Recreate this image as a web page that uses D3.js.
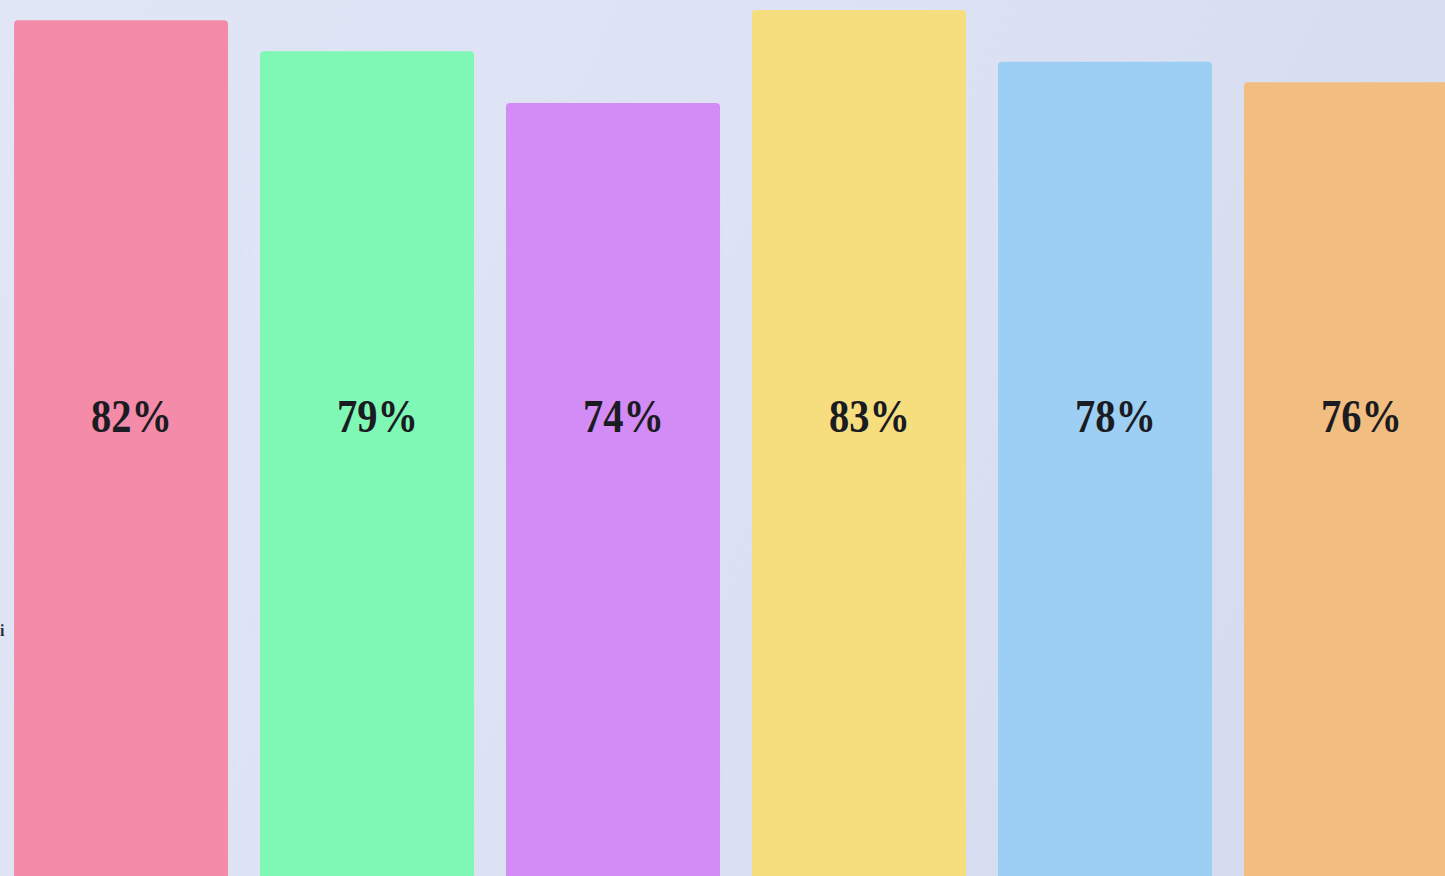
<!DOCTYPE html>
<html>
<head>
<meta charset="utf-8">
<script src="https://cdn.jsdelivr.net/npm/d3@7"></script>
<style>
	html, body { margin: 0; padding: 0; overflow: hidden; }
	svg { display: block; }
	.label { font-family: "Liberation Serif", "Times New Roman", serif; font-weight: bold; }
</style>
</head>
<body>
<svg width="1445" height="876"></svg>
<script>
// The six bars, left to right
const categories = ["A", "B", "C", "D", "E", "F"];
const values = [82, 79, 74, 83, 78, 76];
const colors = ["#f48ca9", "#80f8b5", "#d38bf5", "#f6de7f", "#9dcff4", "#f2bd80"];

document.addEventListener("DOMContentLoaded", function() {
	renderChart();
});

function renderChart() {
	const svg = d3.select("svg");
	const width = 1445, height = 876;

	// soft lavender backdrop, a bit lighter on the left
	const defs = svg.append("defs");
	const grad = defs.append("linearGradient")
					 .attr("id", "bg")
					 .attr("x1", "0").attr("y1", "0")
					 .attr("x2", "1").attr("y2", "0.3");
	grad.append("stop").attr("offset", "0%").attr("stop-color", "#e0e6f6");
	grad.append("stop").attr("offset", "60%").attr("stop-color", "#dce2f3");
	grad.append("stop").attr("offset", "100%").attr("stop-color", "#d5dcef");

	svg.append("rect")
	   .attr("width", width)
	   .attr("height", height)
	   .attr("fill", "url(#bg)");

	const xScale = d3.scaleBand()
					 .domain(categories)
					 .range([14, 1458])
					 .paddingInner(0.13)
					 .paddingOuter(0)
					 .align(0);

	// zero sits just above the bottom edge, bars run off the picture
	const yScale = d3.scaleLinear()
					 .domain([0, 83])
					 .range([868, 10]);

	const data = categories.map((c, i) => ({ cat: c, value: values[i], color: colors[i] }));

	svg.selectAll("rect.bar")
	   .data(data)
	   .enter()
	   .append("rect")
	   .attr("class", "bar")
	   .attr("x", d => xScale(d.cat))
	   .attr("y", d => yScale(d.value))
	   .attr("width", xScale.bandwidth())
	   .attr("height", d => height + 10 - yScale(d.value))
	   .attr("rx", 4)
	   .attr("fill", d => d.color);

	// value labels: tall, slightly condensed serif
	svg.selectAll("text.label")
	   .data(data)
	   .enter()
	   .append("text")
	   .attr("class", "label")
	   .attr("x", d => xScale(d.cat) + xScale.bandwidth() / 2 - 30)
	   .attr("y", 432)
	   .attr("font-size", 47)
	   .attr("textLength", 81)
	   .attr("lengthAdjust", "spacingAndGlyphs")
	   .attr("fill", "#1b1b22")
	   .text(d => d.value + "%");

	// small glyph at the left edge
	svg.append("text")
	   .attr("class", "label")
	   .attr("x", 0)
	   .attr("y", 636)
	   .attr("font-size", 16)
	   .attr("fill", "#2a2f3a")
	   .text("i");
}
</script>
</body>
</html>
